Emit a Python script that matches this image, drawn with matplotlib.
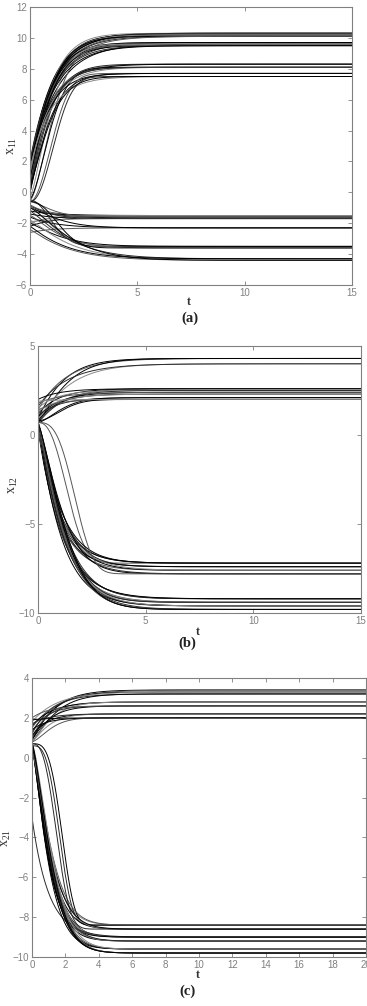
"Trajectories of x11, x12 and x21 converging to their equilibria."
import numpy as np
import matplotlib.pyplot as plt

plt.rcParams['mathtext.fontset'] = 'custom'
plt.rcParams['mathtext.rm'] = 'Liberation Serif'
plt.rcParams['mathtext.it'] = 'Liberation Serif:italic'

# each trajectory: start value, final value, time constant, shape exponent
# (a) x11
a_x0 = [1.5, 0.8, 2.0, 0.3, 1.2, 1.0, 1.8, 0.0, 0.6, 1.2, 0.5, 1.6,
        1.3, 0.2, 1.9, 0.9, 0.7, 1.4, -0.3, 1.1, 0.4, -0.5, 1.6,
        1.0, 0.0, 1.7, 0.6, -0.4, 1.3, 0.2, 0.9, -0.6, 0.2, 1.5, -0.6, 0.5,
        -0.8, -1.2, -2.0, -1.0, -2.2, -0.6, -1.4, -1.9, -0.9, -1.6, -2.6, -1.0,
        -1.0, -0.5, -2.0, -1.5, -0.6, -1.8, -1.2, -2.2, -2.4, -1.0]
a_xf = [10.3, 10.3, 10.3, 10.3, 10.3, 10.2, 10.2, 10.2, 10.2, 10.1, 10.1, 10.1,
        9.7, 9.7, 9.7, 9.7, 9.6, 9.6, 9.6, 9.5, 9.5, 9.5, 9.5,
        8.3, 8.3, 8.3, 8.1, 8.1, 8.1, 8.1, 7.7, 7.7, 7.7, 7.5, 7.5, 7.5,
        -1.5, -1.5, -1.5, -1.6, -1.6, -1.6, -1.7, -1.7, -1.7, -2.3, -2.3, -2.3,
        -3.5, -3.5, -3.5, -3.6, -3.6, -4.3, -4.3, -4.3, -4.4, -4.4]
a_tau = [1.0, 1.05, 1.1, 0.95, 1.0, 1.0, 1.1, 1.0, 0.95, 1.05, 0.95, 1.15,
         0.95, 1.0, 1.1, 0.9, 0.95, 1.2, 1.1, 1.0, 0.95, 1.25, 1.1,
         0.9, 0.95, 1.0, 0.85, 1.15, 0.95, 0.9, 0.85, 1.3, 1.0, 0.95, 1.4, 1.05,
         0.8, 1.0, 0.9, 0.9, 1.1, 1.2, 1.0, 1.3, 1.0, 1.2, 1.0, 1.5,
         1.4, 1.3, 1.6, 1.5, 1.6, 1.9, 2.0, 1.7, 1.8, 2.1]
a_p = [1.0, 1.05, 1.0, 1.1, 1.0, 1.0, 1.0, 1.15, 1.05, 1.0, 1.1, 1.0,
       1.0, 1.15, 1.0, 1.05, 1.05, 1.0, 1.4, 1.0, 1.1, 1.6, 1.0,
       1.0, 1.15, 1.0, 1.05, 1.6, 1.0, 1.1, 1.05, 2.0, 1.2, 1.0, 2.2, 1.3,
       1.0, 1.0, 1.0, 1.0, 1.0, 1.5, 1.0, 1.0, 1.2, 1.0, 1.0, 1.3,
       1.5, 2.0, 1.2, 1.3, 2.2, 1.2, 1.2, 1.1, 1.1, 1.3]

# (b) x12
b_x0 = [1.0, 1.4, 0.7, 0.9, 1.6, 1.2, 0.8, 2.0, 1.5, 0.7, 1.0, 1.8, 0.8, 1.3, 1.1,
        0.7, 1.4, 0.8, 1.9,
        0.7, 0.5, 0.7, 0.6, 0.6, 0.7, 0.4, 0.7, 0.4, 0.7, 0.7, 0.6, 0.7,
        0.7, 0.5, 0.7, 0.6, 0.6, 0.7, 0.4, 0.7, 0.7, 0.6, 0.7, 0.5,
        0.7, 0.5, 0.7, 0.6]
b_xf = [4.3, 4.3, 4.3, 4.0, 4.0, 2.6, 2.6, 2.6, 2.5, 2.5, 2.4, 2.4, 2.3, 2.3, 2.1,
        2.1, 2.0, 2.0, 2.0,
        -7.2, -7.2, -7.2, -7.2, -7.4, -7.4, -7.4, -7.6, -7.6, -7.6, -7.8, -7.8, -7.8,
        -9.2, -9.2, -9.2, -9.2, -9.4, -9.4, -9.4, -9.4, -9.6, -9.6, -9.6, -9.6,
        -9.8, -9.8, -9.8, -9.8]
b_tau = [1.2, 1.3, 1.4, 1.5, 1.4, 1.0, 1.2, 1.0, 0.9, 1.1, 1.0, 1.2, 0.9, 1.1, 1.0,
         1.3, 0.9, 1.4, 1.0,
         1.0, 0.95, 1.6, 1.1, 1.0, 1.15, 0.9, 0.95, 1.1, 1.05, 1.05, 1.25, 1.95,
         1.2, 1.15, 1.3, 1.1, 1.15, 1.25, 1.2, 1.35, 1.2, 1.35, 1.1, 1.3,
         1.25, 1.4, 1.3, 1.45]
b_p = [1.1, 1.0, 1.2, 1.1, 1.0, 1.0, 1.1, 1.0, 1.0, 1.1, 1.0, 1.0, 1.0, 1.0, 1.0,
       1.5, 1.0, 1.8, 1.0,
       1.05, 1.0, 2.5, 1.1, 1.05, 1.2, 1.0, 1.05, 1.1, 1.0, 1.05, 1.3, 3.0,
       1.1, 1.05, 1.2, 1.0, 1.05, 1.2, 1.1, 1.3, 1.1, 1.25, 1.05, 1.15,
       1.1, 1.3, 1.2, 1.35]

# (c) x21
c_x0 = [1.0, 1.5, 0.9, 1.8, 1.2, 0.8, 1.0, 1.6, 0.8, 1.3, 0.9, 2.0, 1.1, 0.8, 1.7,
        1.4, 0.8, 1.9,
        0.7, 0.6, 0.7, 0.5, 0.7, 0.5, 0.7, 0.6,
        0.7, 0.6, 0.4, -3.0, 0.7, 0.7, 0.6, 0.7, 0.5,
        0.7, 0.5, 0.7, 0.6, 0.7, 0.6, 0.3, 0.7]
c_xf = [3.4, 3.4, 3.3, 3.3, 3.2, 3.2, 2.8, 2.8, 2.8, 2.6, 2.6, 2.6, 2.2, 2.2, 2.2,
        2.0, 2.0, 2.0,
        -8.4, -8.4, -8.4, -8.4, -8.6, -8.6, -8.6, -8.6,
        -9.0, -9.0, -9.0, -9.0, -9.0, -9.2, -9.2, -9.2, -9.2,
        -9.6, -9.6, -9.6, -9.6, -9.8, -9.8, -9.8, -9.8]
c_tau = [1.4, 1.6, 1.3, 1.5, 1.2, 1.5, 1.0, 1.2, 1.3, 0.9, 1.1, 1.0, 0.9, 1.1, 1.0,
         0.9, 1.3, 1.0,
         1.2, 1.85, 2.0, 1.3, 1.15, 1.3, 1.7, 1.25,
         1.15, 1.25, 1.2, 1.0, 1.05, 1.2, 1.1, 1.35, 1.25,
         1.2, 1.3, 1.1, 1.4, 1.3, 1.25, 1.4, 1.35]
c_p = [1.1, 1.0, 1.1, 1.0, 1.0, 1.2, 1.0, 1.0, 1.2, 1.0, 1.1, 1.0, 1.0, 1.2, 1.0,
       1.0, 1.5, 1.0,
       1.3, 3.2, 3.5, 1.35, 1.3, 1.4, 2.8, 1.3,
       1.3, 1.35, 1.3, 1.0, 1.25, 1.3, 1.25, 1.45, 1.3,
       1.3, 1.35, 1.25, 1.4, 1.35, 1.3, 1.4, 1.4]

GRAY = '#808080'
LINE_COLORS = ['black', '#555555', 'black', '#8a8a8a', '#2a2a2a']


def trajectories(ax, t, x0, xf, tau, p):
    assert len(x0) == len(xf) == len(tau) == len(p)
    for i in range(len(x0)):
        s = np.exp(-(t / tau[i]) ** p[i])
        x = xf[i] + (x0[i] - xf[i]) * s
        ax.plot(t, x, color=LINE_COLORS[i % len(LINE_COLORS)], lw=0.7)


def style(ax, xlim, ylim, xticks, yticks):
    ax.set_xlim(*xlim)
    ax.set_ylim(*ylim)
    ax.set_xticks(xticks)
    ax.set_yticks(yticks)
    for s in ax.spines.values():
        s.set_color(GRAY)
        s.set_linewidth(0.8)
    ax.tick_params(direction='in', top=True, right=True, length=3, width=0.6,
                   color=GRAY, labelcolor=GRAY, labelsize=7, pad=2)
    for lab in ax.get_xticklabels() + ax.get_yticklabels():
        lab.set_family('Liberation Sans')


fig = plt.figure(figsize=(3.67, 10.06), dpi=100)
W, H = 367.0, 1006.0


def axes_px(l, r, top, bot):
    return fig.add_axes([l / W, 1 - bot / H, (r - l) / W, (bot - top) / H])


serif = {'family': 'Liberation Serif'}

ax1 = axes_px(30, 352, 7, 285)
trajectories(ax1, np.linspace(0, 15, 800), a_x0, a_xf, a_tau, a_p)
style(ax1, (0, 15), (-6, 12), [0, 5, 10, 15], range(-6, 13, 2))

ax2 = axes_px(38, 361, 346, 613)
trajectories(ax2, np.linspace(0, 15, 800), b_x0, b_xf, b_tau, b_p)
style(ax2, (0, 15), (-10, 5), [0, 5, 10, 15], [-10, -5, 0, 5])

ax3 = axes_px(32, 366, 678, 957)
trajectories(ax3, np.linspace(0, 20, 800), c_x0, c_xf, c_tau, c_p)
style(ax3, (0, 20), (-10, 4), range(0, 21, 2), range(-10, 5, 2))

# axis titles and panel captions
for x, y, s in [(12, 146, r'x$_{11}$'), (13, 485, r'x$_{12}$'), (6, 838, r'x$_{21}$')]:
    fig.text(x / W, 1 - y / H, s, rotation=90, ha='center', va='center',
             fontsize=10, color='#333333', **serif)

for x, y in [(189, 302), (198, 632), (198, 975)]:
    fig.text(x / W, 1 - y / H, 't', ha='center', va='center', fontsize=8.5,
             fontweight='bold', color='#333333', **serif)
for x, y, s in [(190, 318, '(a)'), (187, 643, '(b)'), (187, 991, '(c)')]:
    fig.text(x / W, 1 - y / H, s, ha='center', va='center', fontsize=10.5,
             fontweight='bold', color='#222222', **serif)

fig.savefig('out.png', dpi=100)
